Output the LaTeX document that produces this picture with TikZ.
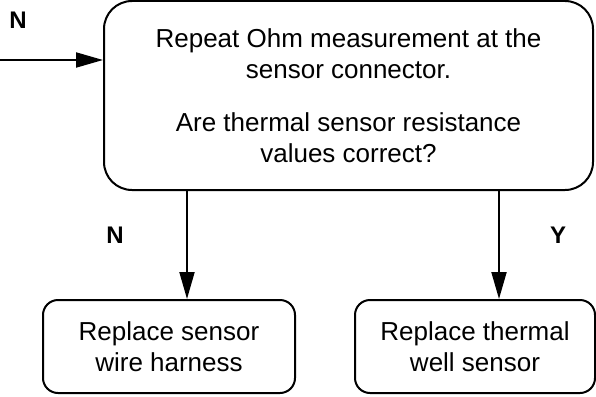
\documentclass[tikz,border=0pt]{standalone}
\usepackage{fontspec}
\setmainfont{Liberation Sans}
\usetikzlibrary{arrows.meta}
\begin{document}
\begin{tikzpicture}[x=1pt,y=-1pt,
  box/.style={draw, line width=2pt, rounded corners=#1, align=center, inner sep=0pt,
    font=\fontsize{26}{31}\selectfont},
  lbl/.style={font=\fontsize{24}{28}\selectfont\bfseries, inner sep=0pt},
  arr/.style={line width=2pt, -{Triangle[length=27pt,width=15pt]}}]
\useasboundingbox (0,0) rectangle (596,396);
\node[box=28pt, minimum width=489pt, minimum height=189pt] (q) at (348.5,95.5)
  {Repeat Ohm measurement at the\\sensor connector.\\[22pt]Are thermal sensor resistance\\values correct?};
\node[box=15pt, minimum width=252pt, minimum height=93pt] (l) at (169,346.5)
  {Replace sensor\\wire harness};
\node[box=15pt, minimum width=240pt, minimum height=93pt] (r) at (475,346.5)
  {Replace thermal\\well sensor};
\coordinate (in) at (0,60);
\draw[arr] (in) -- (in -| q.west);
\draw[arr] ([xshift=18pt]l.north |- q.south) -- ([xshift=18pt]l.north);
\draw[arr] ([xshift=24pt]r.north |- q.south) -- ([xshift=24pt]r.north);
\node[lbl] (n0) at (18,20) {N};
\node[lbl] (n1) at (115,235) {N};
\node[lbl] (y1) at (558,235) {Y};
\end{tikzpicture}
\end{document}
